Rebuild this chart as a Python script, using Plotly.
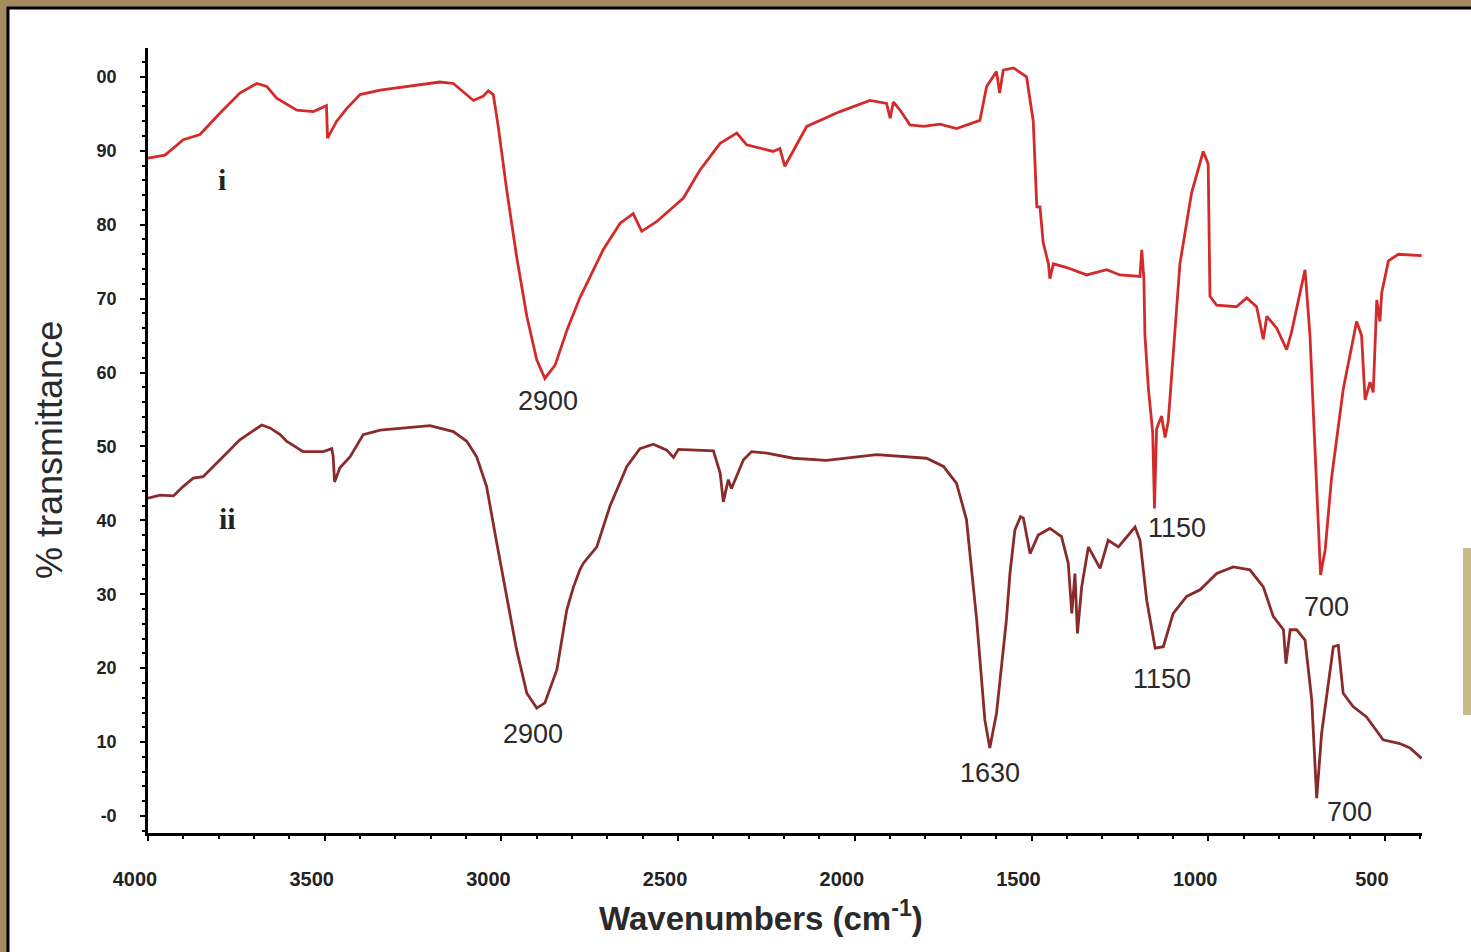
import plotly.graph_objects as go

# Trace i (red)
wn_i = [4000, 3952, 3900, 3853, 3796, 3740, 3692, 3664, 3636, 3579, 3532, 3495, 3492, 3466, 3438,
        3400, 3343, 3268, 3174, 3136, 3103, 3079, 3051, 3037, 3023, 3009, 2985, 2957, 2928, 2900,
        2877, 2848, 2814, 2778, 2712, 2664, 2627, 2603, 2561, 2485, 2438, 2381, 2334, 2306, 2231,
        2212, 2198, 2183, 2136, 2042, 1957, 1910, 1900, 1891, 1872, 1844, 1806, 1759, 1712, 1646,
        1627, 1599, 1590, 1580, 1551, 1514, 1495, 1485, 1476, 1467, 1452, 1448, 1438, 1400, 1344,
        1287, 1250, 1193, 1188, 1182, 1179, 1169, 1157, 1152, 1146, 1132, 1122, 1113, 1080, 1047,
        1014, 1000, 995, 976, 920, 891, 863, 844, 834, 806, 778, 764, 726, 712, 698,
        682, 669, 651, 618, 580, 566, 556, 542, 533, 523, 514, 509, 490, 462, 396]
t_i = [89.0, 89.4, 91.5, 92.2, 95.1, 97.8, 99.1, 98.7, 97.1, 95.5, 95.3, 96.1, 91.7, 94.0, 95.7,
       97.6, 98.2, 98.7, 99.3, 99.1, 97.8, 96.8, 97.4, 98.1, 97.6, 93.3, 84.7, 75.7, 67.6, 61.7,
       59.2, 61.0, 65.8, 70.1, 76.6, 80.2, 81.5, 79.1, 80.4, 83.6, 87.4, 91.0, 92.4, 90.8, 89.9,
       90.3, 87.9, 89.2, 93.3, 95.3, 96.8, 96.4, 94.4, 96.6, 95.5, 93.5, 93.3, 93.6, 93.0, 94.1,
       98.7, 100.7, 97.8, 100.9, 101.2, 100.0, 94.0, 82.4, 82.4, 77.6, 74.7, 72.7, 74.7, 74.2, 73.2,
       73.9, 73.2, 73.0, 76.6, 72.7, 65.0, 57.7, 51.9, 41.6, 52.4, 54.1, 51.2, 53.4, 74.7, 84.3,
       89.9, 88.2, 70.3, 69.1, 68.9, 70.1, 68.9, 64.5, 67.6, 66.0, 63.1, 65.5, 73.9, 65.0, 50.5,
       32.6, 36.0, 45.7, 57.7, 66.9, 65.0, 56.3, 58.7, 57.3, 69.8, 66.9, 70.8, 75.1, 76.0, 75.8]

# Trace ii (maroon)
wn_ii = [4000, 3966, 3928, 3900, 3872, 3844, 3796, 3740, 3678, 3655, 3626, 3608, 3561, 3504, 3480,
         3476, 3472, 3457, 3428, 3391, 3343, 3268, 3202, 3136, 3098, 3070, 3042, 3013, 2985, 2957,
         2928, 2900, 2877, 2843, 2815, 2796, 2778, 2768, 2730, 2693, 2645, 2608, 2570, 2532, 2513,
         2499, 2400, 2381, 2372, 2358, 2349, 2315, 2292, 2249, 2174, 2080, 1938, 1797, 1749, 1712,
         1684, 1655, 1632, 1618, 1599, 1571, 1561, 1547, 1531, 1523, 1504, 1481, 1448, 1415, 1396,
         1386, 1377, 1370, 1358, 1339, 1306, 1283, 1254, 1231, 1207, 1193, 1174, 1150, 1127, 1099,
         1061, 1023, 976, 929, 882, 844, 816, 787, 780, 768, 750, 726, 707, 693, 679,
         646, 632, 618, 590, 552, 505, 458, 429, 396]
t_ii = [43.0, 43.4, 43.3, 44.6, 45.7, 45.9, 48.2, 50.9, 52.9, 52.5, 51.6, 50.7, 49.3, 49.3, 49.7,
        48.6, 45.2, 47.1, 48.6, 51.6, 52.2, 52.5, 52.8, 52.0, 50.7, 48.6, 44.6, 36.9, 29.7, 22.5,
        16.6, 14.6, 15.3, 19.8, 27.9, 31.0, 33.3, 34.2, 36.4, 41.9, 47.3, 49.7, 50.3, 49.5, 48.5,
        49.6, 49.4, 46.4, 42.5, 45.5, 44.3, 48.2, 49.3, 49.1, 48.4, 48.1, 48.9, 48.4, 47.3, 45.0,
        40.1, 26.5, 13.0, 9.2, 13.9, 26.5, 32.8, 38.7, 40.5, 40.3, 35.5, 38.0, 38.9, 37.8, 34.2,
        27.4, 32.8, 24.7, 31.0, 36.4, 33.5, 37.3, 36.4, 37.8, 39.1, 37.3, 29.2, 22.7, 22.9, 27.4,
        29.7, 30.6, 32.8, 33.7, 33.3, 31.0, 27.0, 25.2, 20.6, 25.2, 25.2, 23.8, 15.7, 2.4, 11.2,
        22.9, 23.1, 16.6, 14.8, 13.4, 10.3, 9.8, 9.2, 7.8]

x_ticks = [4000, 3500, 3000, 2500, 2000, 1500, 1000, 500]
x_ticktext = ["4000", "3500", "3000", "2500", "2000", "1500", "1000", "500"]
y_ticks = [0, 10, 20, 30, 40, 50, 60, 70, 80, 90, 100]
y_ticktext = ["-0", "10", "20", "30", "40", "50", "60", "70", "80", "90", "00"]

# Peak labels: (text, wavenumber, %T)
peak_text = ["2900", "1150", "700", "2900", "1630", "1150", "700"]
peak_wn = [2868, 1088, 664, 2911, 1617, 1131, 599]
peak_t = [56.2, 39.0, 28.3, 11.1, 5.8, 18.5, 0.5]
curve_text = ["i", "ii"]
curve_wn = [3791, 3774]
curve_t = [86.1, 40.3]

fig = go.Figure()
fig.add_trace(go.Scatter(x=wn_i, y=t_i, mode="lines",
                         line=dict(color="#d42a2a", width=2.8), showlegend=False))
fig.add_trace(go.Scatter(x=wn_ii, y=t_ii, mode="lines",
                         line=dict(color="#8a2b2b", width=2.8), showlegend=False))

for txt, xw, yt in zip(peak_text, peak_wn, peak_t):
    fig.add_annotation(x=xw, y=yt, text=txt, showarrow=False, xanchor="center", yanchor="middle",
                       font=dict(family="Liberation Sans, Arial", size=27, color="#2a2a2a"))
for txt, xw, yt in zip(curve_text, curve_wn, curve_t):
    fig.add_annotation(x=xw, y=yt, text="<b>" + txt + "</b>", showarrow=False,
                       xanchor="center", yanchor="middle",
                       font=dict(family="Liberation Serif, Times New Roman", size=30, color="#222"))

# axis titles
fig.add_annotation(xref="paper", yref="paper", x=-0.0769, y=0.488, text="% transmittance",
                   textangle=-90, showarrow=False, xanchor="center", yanchor="middle",
                   font=dict(family="Liberation Sans, Arial", size=36, color="#2a2a2a"))
fig.add_annotation(xref="paper", yref="paper", x=0.481, y=-0.1057,
                   text="<b>Wavenumbers (cm<sup>-1</sup>)</b>", showarrow=False,
                   xanchor="center", yanchor="middle",
                   font=dict(family="Liberation Sans, Arial", size=33, color="#2a2a2a"))

# panel and decoration
fig.add_shape(type="rect", xref="paper", yref="paper", x0=-0.1099, x1=1.06, y0=-0.17, y1=1.051,
              fillcolor="white", line=dict(color="black", width=3), layer="below")
fig.add_shape(type="rect", xref="paper", yref="paper", x0=1.0322, x1=1.045, y0=0.1503, y1=0.3631,
              fillcolor="#c9bb88", line=dict(width=0), layer="below")

fig.update_xaxes(range=[4000, 395], tickvals=x_ticks, ticktext=x_ticktext,
                 showline=True, linecolor="black", linewidth=2.5, mirror=False,
                 showgrid=False, zeroline=False,
                 ticks="outside", ticklen=5, tickwidth=2, tickcolor="black",
                 minor=dict(dtick=100, ticks="outside", ticklen=3, tickcolor="black", tickwidth=1.5),
                 ticklabelstandoff=21, ticklabelshift=13,
                 tickfont=dict(family="Liberation Sans, Arial", size=20, color="#222", weight="bold"))
fig.update_yaxes(range=[-2.3, 103.9], tickvals=y_ticks, ticktext=y_ticktext,
                 showline=True, linecolor="black", linewidth=2.5, mirror=False,
                 showgrid=False, zeroline=False,
                 ticks="outside", ticklen=5, tickwidth=2, tickcolor="black",
                 minor=dict(dtick=2, ticks="outside", ticklen=3, tickcolor="black", tickwidth=1.5),
                 ticklabelstandoff=20,
                 tickfont=dict(family="Liberation Sans, Arial", size=18, color="#222", weight="bold"))

fig.update_layout(width=1471, height=952,
                  margin=dict(l=148, r=49, t=48, b=119),
                  paper_bgcolor="#a58b5f", plot_bgcolor="rgba(0,0,0,0)",
                  showlegend=False)

fig.write_html("out.html", config={"displayModeBar": False},
               post_script="document.body.style.margin='0';document.body.style.overflow='hidden';")
